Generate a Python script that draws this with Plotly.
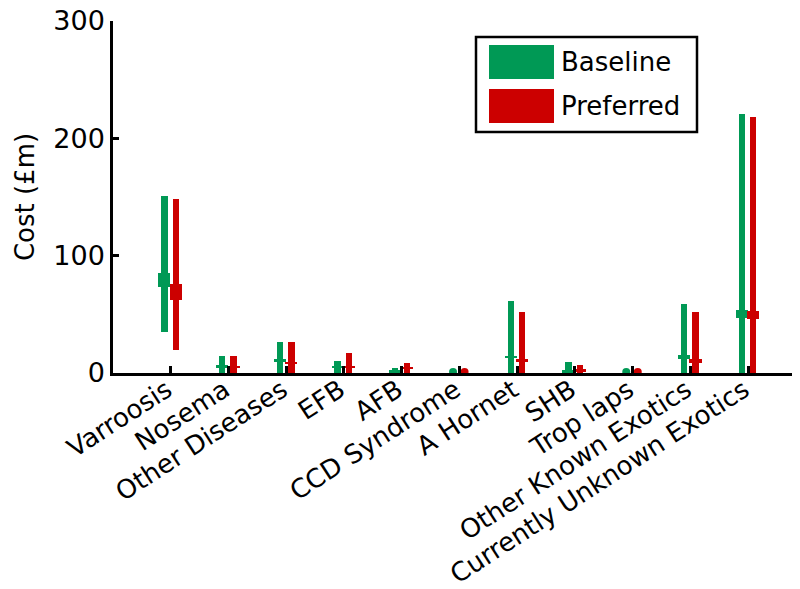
import plotly.graph_objects as go

categories = ["Varroosis", "Nosema", "Other Diseases", "EFB", "AFB", "CCD Syndrome",
              "A Hornet", "SHB", "Trop laps", "Other Known Exotics", "Currently Unknown Exotics"]

# Baseline (green): whisker low/high, box q1/q3
base_low = [35, 0, 0, 0, 0, None, 0, 0, None, 0, 0]
base_high = [151, 14.8, 26, 10.5, 4, None, 61.4, 9.7, None, 58.8, 220.7]
base_q1 = [73, 4.3, 9.5, 4.3, 0.3, None, 12.6, 0.3, None, 11.8, 46.6]
base_q3 = [85, 6.5, 11.6, 6.0, 2.3, None, 14.8, 2.3, None, 15.2, 53.7]
base_dot = [None, None, None, None, None, 0.8, None, None, 0.8, None, None]

# Preferred (red)
pref_low = [19.6, 0, 0, 0, 0, None, 0, 0, None, 0, 0]
pref_high = [148, 14.5, 26, 17, 8.2, None, 52, 6.8, None, 52.3, 218]
pref_q1 = [62, 4.4, 8.0, 4.3, 3.6, None, 9.6, 0.5, None, 8.9, 46]
pref_q3 = [76, 6.2, 9.8, 6.0, 5.4, None, 11.6, 3.5, None, 11.6, 52.8]
pref_dot = [None, None, None, None, None, 0.8, None, None, 0.8, None, None]

series_names = ["Baseline", "Preferred"]
GREEN = "#009955"
RED = "#CC0000"
FONT = "DejaVu Sans"

# page body offset of 8px
OFF = 8
W, H = 800, 589
ML, MR, MT, MB = 113 - OFF, OFF, 21 - OFF, H - (373 - OFF)

fig = go.Figure()


def add_series(low, high, q1, q3, dots, off, color, name):
    xs = [i + 1 + off for i in range(len(categories))]
    idx = [i for i in range(len(categories)) if low[i] is not None]
    fig.add_trace(go.Bar(x=[xs[i] for i in idx], y=[high[i] - low[i] for i in idx],
                         base=[low[i] for i in idx], width=0.11, marker_color=color,
                         marker_line_width=0, name=name, showlegend=False))
    fig.add_trace(go.Bar(x=[xs[i] for i in idx], y=[q3[i] - q1[i] for i in idx],
                         base=[q1[i] for i in idx], width=0.21, marker_color=color,
                         marker_line_width=0, name=name, showlegend=False))
    didx = [i for i in range(len(categories)) if dots[i] is not None]
    fig.add_trace(go.Scatter(x=[xs[i] for i in didx], y=[dots[i] for i in didx], mode="markers",
                             marker=dict(color=color, size=8), cliponaxis=False,
                             showlegend=False, name=name))


add_series(base_low, base_high, base_q1, base_q3, base_dot, -0.11, GREEN, series_names[0])
add_series(pref_low, pref_high, pref_q1, pref_q3, pref_dot, 0.09, RED, series_names[1])

fig.update_layout(
    width=W, height=H, margin=dict(l=ML, r=MR, t=MT, b=MB, autoexpand=False),
    plot_bgcolor="white", paper_bgcolor="white", barmode="overlay", bargap=0,
    font=dict(family=FONT, size=26, color="black"),
)
fig.update_xaxes(range=[0, 11.9], tickvals=list(range(1, 12)), ticktext=categories,
                 tickangle=-33, ticks="inside", ticklen=7, tickwidth=2.5, tickcolor="black",
                 showline=True, linecolor="black", linewidth=2.5, showgrid=False, zeroline=False,
                 tickfont=dict(family=FONT, size=26), automargin=False,
                 ticklabelstandoff=-11, ticklabelshift=-4, ticklabeloverflow="allow")
fig.update_yaxes(range=[0, 300], tickvals=[0, 100, 200, 300], ticks="inside", ticklen=6,
                 tickwidth=2.5, tickcolor="black", showline=True, linecolor="black", linewidth=2.5,
                 showgrid=False, zeroline=False, tickfont=dict(family=FONT, size=27),
                 ticklabeloverflow="allow",
                 title=dict(text="Cost (£m)", font=dict(family=FONT, size=26), standoff=12),
                 automargin=False)


def px(x):
    return (x - OFF - ML) / (W - ML - MR)


def py(y):
    return (H - MB - (y - OFF)) / (H - MT - MB)


# legend drawn manually (reference pixel coordinates)
fig.add_shape(type="rect", xref="paper", yref="paper", x0=px(476), x1=px(697), y0=py(37), y1=py(132),
              line=dict(color="black", width=2.5), fillcolor="white")
for k, (name, color) in enumerate(zip(series_names, [GREEN, RED])):
    top = 45 + k * 44
    fig.add_shape(type="rect", xref="paper", yref="paper", x0=px(489), x1=px(554), y0=py(top),
                  y1=py(top + 34), line=dict(width=0), fillcolor=color)
    fig.add_annotation(xref="paper", yref="paper", x=px(559), y=py(top + 17), text=name,
                       showarrow=False, xanchor="left", yanchor="middle",
                       font=dict(family=FONT, size=26, color="black"))

fig.write_html("out.html")
